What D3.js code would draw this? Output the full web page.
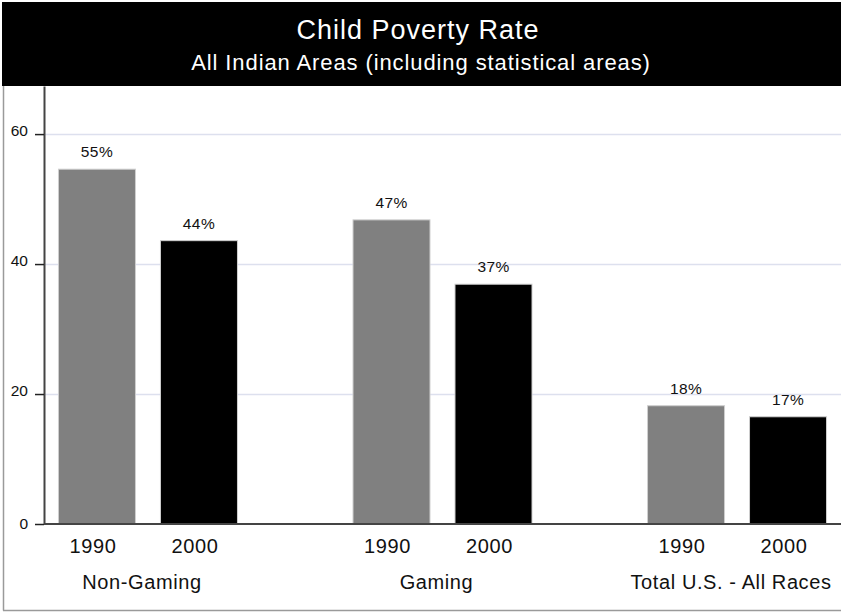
<!DOCTYPE html>
<html>
<head>
<meta charset="utf-8">
<script src="https://cdn.jsdelivr.net/npm/d3@7"></script>
<style>
  html, body { margin: 0; padding: 0; background: #fff; }
  svg { display: block; }
  text { font-family: "Liberation Sans", Arial, sans-serif; }
</style>
</head>
<body>
<svg id="chart" width="841" height="613"></svg>
<script>
// ---- data ----
const groups = ["Non-Gaming", "Gaming", "Total U.S. - All Races"];
const years = ["1990", "2000"];
const values1990 = [54.6, 46.8, 18.2];
const values2000 = [43.6, 36.9, 16.5];
const labels1990 = ["55%", "47%", "18%"];
const labels2000 = ["44%", "37%", "17%"];
const yTicks = [0, 20, 40, 60];
const title = "Child Poverty Rate";
const subtitle = "All Indian Areas (including statistical areas)";
const yearColors = ["#808080", "#000000"];

const rows = [];
groups.forEach((g, i) => {
  rows.push({group: g, year: years[0], value: values1990[i], label: labels1990[i]});
  rows.push({group: g, year: years[1], value: values2000[i], label: labels2000[i]});
});

const W = 841, H = 613;
const svg = d3.select("#chart");

const plotLeft = 44, plotRight = 841, plotTop = 86, plotBottom = 524;

const y = d3.scaleLinear().domain([0, 67.4]).range([plotBottom, plotTop]);
const x0 = d3.scalePoint().domain(groups).range([plotLeft, plotRight]).padding(0.353);
const x1 = d3.scaleBand().domain(years).range([-89.5, 89.5]).paddingInner(0.245).paddingOuter(0);
const color = d3.scaleOrdinal().domain(years).range(yearColors);

// outer frame (left + bottom)
svg.append("line").attr("x1", 3.5).attr("x2", 3.5).attr("y1", 86).attr("y2", 610.5)
  .attr("stroke", "#9a9a9a").attr("stroke-width", 1.5);
svg.append("line").attr("x1", 3).attr("x2", W).attr("y1", 610.5).attr("y2", 610.5)
  .attr("stroke", "#9a9a9a").attr("stroke-width", 1.5);

// title box
svg.append("rect").attr("x", 2).attr("y", 2).attr("width", W - 2).attr("height", 84).attr("fill", "#000");
svg.append("text").attr("x", 418).attr("y", 39).attr("text-anchor", "middle")
  .attr("fill", "#fff").attr("font-size", 27).attr("letter-spacing", 1).text(title);
svg.append("text").attr("x", 421).attr("y", 70).attr("text-anchor", "middle")
  .attr("fill", "#fff").attr("font-size", 22).attr("letter-spacing", 0.9).text(subtitle);

// gridlines
svg.append("g").selectAll("line").data(yTicks.filter(d => d > 0)).join("line")
  .attr("x1", plotLeft).attr("x2", plotRight)
  .attr("y1", d => y(d) + 0.5).attr("y2", d => y(d) + 0.5)
  .attr("stroke", "#dde0ee").attr("stroke-width", 1.5);

// bars
const bars = svg.append("g");
bars.selectAll("rect").data(rows).join("rect")
  .attr("x", d => x0(d.group) + x1(d.year))
  .attr("y", d => y(d.value))
  .attr("width", x1.bandwidth())
  .attr("height", d => y(0) - y(d.value))
  .attr("fill", d => color(d.year))
  .attr("stroke", "#cfcfcf").attr("stroke-width", 1);

// value labels
svg.append("g").selectAll("text").data(rows).join("text")
  .attr("x", d => x0(d.group) + x1(d.year) + x1.bandwidth() / 2)
  .attr("y", d => y(d.value) - 12)
  .attr("text-anchor", "middle").attr("font-size", 15.5).attr("letter-spacing", 0.4).attr("fill", "#111")
  .text(d => d.label);

// y axis
const yAxis = d3.axisLeft(y).tickValues(yTicks).tickSize(9).tickSizeOuter(0).tickPadding(7).tickFormat(d3.format("d"));
const gy = svg.append("g").attr("transform", `translate(${plotLeft},0)`).call(yAxis);
gy.select(".domain").attr("stroke", "#444").attr("stroke-width", 2);
gy.selectAll(".tick line").attr("stroke", "#222").attr("stroke-width", 1.5);
gy.selectAll(".tick text").attr("font-size", 15.5).attr("fill", "#111")
  .attr("font-family", "'Liberation Sans', Arial, sans-serif")
  .attr("dy", d => d === 0 ? "0.32em" : "0.1em");

// x baseline
svg.append("line").attr("x1", plotLeft).attr("x2", plotRight)
  .attr("y1", y(0)).attr("y2", y(0)).attr("stroke", "#444").attr("stroke-width", 2);

// year labels
svg.append("g").selectAll("text").data(rows).join("text")
  .attr("x", d => x0(d.group) + x1(d.year) + x1.bandwidth() / 2 - 4)
  .attr("y", 553)
  .attr("text-anchor", "middle").attr("font-size", 20).attr("letter-spacing", 0.6).attr("fill", "#111")
  .text(d => d.year);

// group labels
svg.append("g").selectAll("text").data(groups).join("text")
  .attr("x", d => x0(d) - 6)
  .attr("y", 589)
  .attr("text-anchor", "middle").attr("font-size", 20).attr("letter-spacing", 0.6).attr("fill", "#111")
  .text(d => d);
</script>
</body>
</html>
